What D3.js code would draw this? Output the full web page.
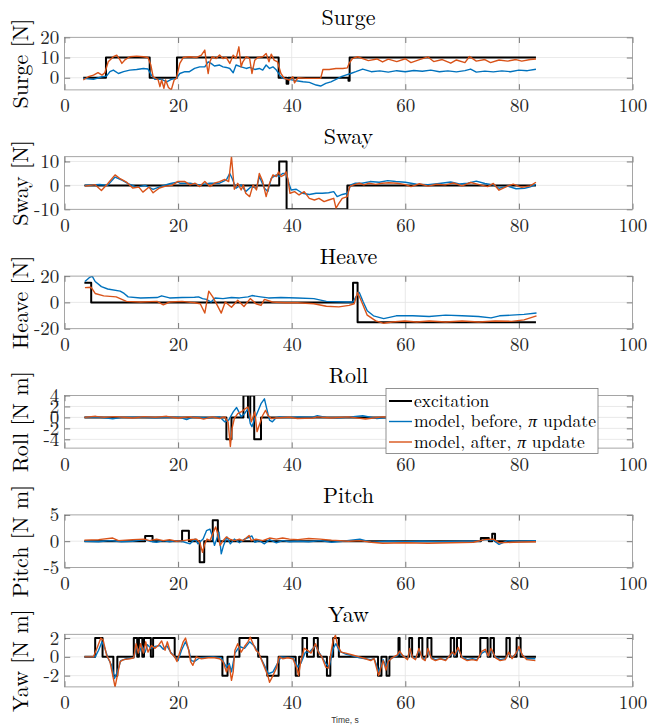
<!DOCTYPE html>
<html><head><meta charset="utf-8">
<script src="https://cdn.jsdelivr.net/npm/d3@7"></script>
<style>body{margin:0;background:#fff} svg{display:block}</style>
</head><body>
<svg id="chart" width="647" height="728"></svg>
<script>
// ---------------- DATA ----------------
const xTicks = [0, 20, 40, 60, 80, 100];
const panelTitles = ["Surge", "Sway", "Heave", "Roll", "Pitch", "Yaw"];
const panelYLabels = ["Surge [N]", "Sway [N]", "Heave [N]", "Roll [N m]", "Pitch [N m]", "Yaw [N m]"];
const seriesNames = ["excitation", "model, before, ", "model, after, "];

const surgeYLim = [-6, 20], surgeTicks = [0, 10, 20];
const swayYLim = [-10, 12], swayTicks = [-10, 0, 10];
const heaveYLim = [-20, 20], heaveTicks = [-20, 0, 20];
const rollYLim = [-5.6, 4], rollTicks = [-4, -2, 0, 2, 4];
const pitchYLim = [-5, 5], pitchTicks = [-5, 0, 5];
const yawYLim = [-3.2, 2.4], yawTicks = [-2, 0, 2];

const surgeExcitation = [[3.3,0],[7.3,10],[15.0,0],[19.8,10],[37.7,0],[39.1,-3],[39.4,0],[50.0,-1.5],[50.2,10],[83,10]];
const surgeBefore = [[3.3,-0.3],[5.1,-0.8],[6.6,0.5],[7.4,0.8],[8.0,3.0],[8.6,3.8],[9.5,2.1],[10.4,3.0],[11.5,3.8],[12.7,4.1],[13.9,4.6],[14.7,4.3],[15.3,1.3],[15.9,-0.8],[17.1,-0.8],[18.0,-2.0],[18.8,-0.8],[19.7,-0.3],[20.3,2.1],[21.2,3.0],[22.0,3.0],[22.9,4.6],[23.8,5.4],[24.7,5.4],[25.3,7.9],[25.8,7.1],[26.4,5.8],[27.3,6.3],[27.9,5.4],[28.5,5.1],[29.1,4.6],[29.7,2.5],[30.2,6.3],[31.1,5.4],[32.0,4.6],[32.6,5.1],[33.5,4.1],[34.3,4.6],[34.9,3.8],[35.5,6.3],[36.1,4.6],[36.7,5.4],[37.3,3.8],[37.9,1.3],[38.4,-0.3],[39.6,-0.8],[40.8,-1.5],[42.0,-2.0],[43.1,-2.3],[44.3,-3.6],[45.1,-4.1],[46.0,-2.8],[46.9,-2.0],[47.8,-0.8],[48.7,0.5],[49.5,1.3],[50.4,2.1],[51.3,3.0],[52.5,4.3],[54,3.0],[55.5,3.4],[57,2.8],[58.5,3.5],[60,3.0],[61.5,3.6],[63,3.2],[64.5,3.8],[66,3.0],[67.5,3.4],[69,2.9],[70.5,3.5],[71.5,4.3],[72.5,2.8],[74,3.3],[75.5,2.9],[77,3.4],[78.5,3.0],[80,3.8],[81.5,3.5],[83,4.2]];
const surgeAfter = [[3.3,-1.1],[4.2,0.5],[5.1,1.3],[5.9,2.5],[6.6,1.3],[7.1,2.5],[7.7,7.9],[8.6,10.4],[9.2,11.2],[9.8,8.7],[10.1,7.1],[10.7,9.0],[11.5,10.4],[12.7,10.7],[13.9,10.4],[14.7,10],[15.2,6.3],[15.6,0.5],[16.5,-1.1],[16.8,-4.4],[17.1,-1.1],[17.5,-5.2],[17.8,-1.1],[18.3,-4.8],[18.8,-6],[19.3,-1.1],[19.7,-0.3],[20.3,7.1],[20.9,10],[22.0,10.4],[23.2,10],[24.1,11.2],[24.7,13.7],[25.0,7.1],[25.3,2.1],[25.6,7.9],[26.0,10.4],[26.7,9.5],[27.3,11.2],[27.9,9.5],[28.5,10],[29.1,7.1],[29.7,11.2],[30.2,9.5],[30.7,15.3],[31.1,5.4],[31.4,7.9],[32.0,10.4],[32.6,9.5],[33.0,2.1],[33.5,8.7],[34.0,10],[34.9,10.4],[35.5,12],[36.0,7.9],[36.4,11.7],[36.9,8.7],[37.5,7.9],[38.1,2.1],[38.7,-0.3],[39.6,-1.1],[40.2,0.5],[40.5,-2.5],[41.1,0],[42.5,-0.3],[43.7,-0.3],[45.1,-0.3],[45.5,4.1],[46.6,4.1],[47.8,4.6],[49.0,4.6],[49.8,4.9],[50.1,7.1],[50.7,9.5],[51.6,10.4],[52.5,9.5],[53.5,8.5],[55,9.3],[56,7.8],[57,9.2],[58.5,8.0],[60,9.4],[61,7.5],[62.5,9.0],[64,10.3],[65,8.0],[66.5,9.0],[68,7.2],[69,8.8],[70.5,7.5],[71.3,10.5],[72.5,8.2],[74,9.0],[75,7.5],[76.5,8.8],[78,8.2],[79.5,9.0],[80.5,8.2],[82,9.0],[83,9.3]];

const swayExcitation = [[3.5,0],[37.8,10],[39.1,-10],[49.8,0],[83,0]];
const swayBefore = [[3.6,0],[6.2,0.4],[7.6,0],[8.9,3.5],[10.2,2.1],[11.2,0.7],[12.7,-0.7],[14.2,0],[15.6,-1.7],[17.1,-0.3],[18.5,0.7],[20,1.4],[20.3,0.9],[22.1,0.9],[23.8,0.2],[25.6,0.9],[27.3,0.9],[28.5,2.3],[29.1,5],[29.5,3],[30.2,-1.2],[31.1,0.2],[31.9,-2.6],[32.9,-0.5],[33.8,-1.2],[34.3,3.7],[35.2,-1.2],[35.8,-2.6],[36.4,3],[37.3,4.4],[37.8,3.7],[38.4,5],[39.0,5],[39.5,0.9],[39.9,-1.9],[40.8,-1.6],[41.9,-3.3],[43.1,-3.8],[44.3,-3.3],[45.4,-3.3],[46.5,-3.1],[47.4,-2.6],[48.0,-4.7],[48.9,-3.8],[49.8,-3.3],[50.4,0.2],[51.2,0.9],[52.4,0.9],[53.8,1.6],[55.4,1.3],[56.9,2.0],[58.3,1.6],[60,1.3],[62,0.5],[64,0.3],[66,0.8],[68,1.4],[69.5,0.6],[71,0.9],[72.5,1.8],[74,0.8],[75.5,0.2],[76.5,-1.2],[78,-0.3],[79.5,-1.4],[81,-1.2],[82,-0.6],[83,0.4]];
const swayAfter = [[3.6,-0.3],[5.4,0.3],[6.5,-2.1],[7.6,0.7],[8.9,4.4],[9.8,2.8],[10.9,1.4],[12,-1.1],[13.1,-0.7],[13.8,-2.8],[14.9,-0.7],[15.6,-3.1],[16.7,-1.1],[17.8,-0.3],[18.9,0],[20,1.7],[21.2,1.6],[22.1,0.2],[23.0,0.9],[23.8,-0.5],[24.7,1.6],[25.6,-0.5],[26.4,0.9],[27.3,1.6],[28.2,2.5],[28.9,1.6],[29.4,12],[29.7,3.7],[29.9,-1.6],[30.5,0.9],[31.1,-1.9],[31.5,0.2],[31.9,-3.3],[32.6,-4.7],[33.2,0.2],[33.8,-1.9],[34.3,5],[34.9,1.6],[35.5,-4.7],[36.1,0.9],[36.7,4.4],[37.3,3.7],[37.7,5.7],[38.1,3.7],[38.7,4.4],[39.0,5.7],[39.3,3.0],[39.7,-3.3],[40.5,-2.6],[41.3,-4.0],[42.2,-2.6],[43.1,-5.4],[44.0,-6.1],[44.8,-5.4],[45.7,-6.8],[46.5,-6.1],[47.4,-5.4],[47.8,-9.5],[48.3,-7.5],[48.9,-5.4],[49.8,-4.7],[50.2,-0.5],[50.9,0.2],[51.9,0.9],[52.7,0.2],[53.6,0.9],[54.8,0.4],[55.9,0.9],[57.1,1.1],[58.6,0.9],[60,0.3],[61,-0.5],[62.5,0.7],[64,-0.3],[65.5,0.5],[67,0.2],[68.5,1.0],[70,-0.2],[71.5,1.2],[73,0.3],[74.5,-0.5],[75.5,0.8],[76.5,-2.0],[78,-0.3],[79,0.5],[80.5,-0.8],[82,-0.2],[83,1.3]];

const heaveExcitation = [[3.5,15],[4.7,0],[50.8,15],[51.6,-15],[83,-15]];
const heaveBefore = [[3.6,15.9],[4.4,19],[4.9,19.8],[5.4,15.9],[6.5,12],[7.6,10.2],[9.8,8.6],[10.5,6.8],[11.2,4.2],[13.4,3.4],[16.3,3.7],[17.1,5],[18.5,3.4],[20.7,3.7],[22.9,3.9],[23.6,4.2],[24.3,2.9],[25,2.3],[25.8,0.3],[26.5,3.4],[27.9,2.9],[29.4,3.7],[30.8,3.4],[32.3,4.2],[33,5.2],[34.5,4.2],[35.9,3.4],[38.1,3.7],[41,3.4],[43.9,2.9],[46.1,0.8],[49.7,0.3],[50.8,0.3],[51.3,4.2],[51.9,7.6],[52.6,0.3],[53.3,-6.3],[54.4,-10.2],[56.2,-12.3],[58.4,-10.2],[61.3,-10.2],[64.2,-10.7],[67.1,-9.7],[70,-10.2],[72.9,-10.7],[75.1,-11.8],[76.6,-10.2],[78.7,-9.7],[80.9,-9.1],[83.1,-8.1]];
const heaveAfter = [[3.6,11.2],[4.7,11.5],[5.4,6.8],[6.9,5],[9.1,4.2],[10.9,0.8],[13.4,0.3],[16.3,0.8],[17.4,-1.8],[18.5,0.3],[20.7,0.8],[22.9,-0.3],[23.9,-1],[24.7,-8.1],[25.4,8.6],[26.1,4.2],[26.9,-2.3],[27.6,-8.1],[28.3,0.3],[29.4,-3.7],[30.5,1.6],[31.6,-3.1],[32.7,2.9],[33.7,-1],[34.6,-2.3],[35.2,2.3],[36.6,0.3],[38.8,-0.3],[41,-0.3],[43.9,-1],[46.1,-2.9],[48.3,-3.4],[50.1,-2.3],[51,-1],[51.6,7.6],[52.2,1.6],[53.3,-9.7],[54.8,-14.1],[56.2,-15.9],[57.7,-14.9],[59.9,-14.1],[62,-14.9],[64.2,-14.1],[67.1,-14.9],[70,-14.1],[72.9,-14.9],[75.8,-14.1],[78.7,-14.4],[80.9,-13.3],[83.1,-10.2]];

const rollExcitation = [[3.5,0],[28.5,-4],[29.4,0],[31.5,4],[32.3,0],[32.7,4],[33.4,-4],[34.6,0],[83,0]];
const rollBefore = [[3.5,0],[6,0.05],[8.5,-0.25],[10,0],[13,0.05],[16,-0.05],[19,0.05],[20.3,0],[21.5,-0.4],[22.6,0.1],[25,-0.1],[27.3,0.1],[28.2,-0.8],[28.9,-0.5],[29.7,1],[30.3,1.8],[30.7,1],[31.1,0.1],[31.7,0.7],[32.3,1.6],[32.7,-1.1],[33.0,-1.7],[33.5,-0.2],[34.0,1],[34.6,2.5],[35.2,3.4],[35.6,1.6],[36.1,-0.5],[36.6,-0.8],[37.2,-0.1],[37.8,0.1],[39.6,0],[41.3,0.1],[43.7,0.05],[44.5,0.3],[46,0],[48,-0.1],[50,0.05],[52.5,0.3],[55,-0.2],[58,0.1],[62,-0.1],[66,0.05],[70,-0.1],[74,0.05],[78,-0.05],[83,0]];
const rollAfter = [[3.5,0],[5.5,0.2],[7,0],[9,0.15],[12,-0.1],[14,0.15],[16,0],[18,0.2],[20,-0.1],[22,0.1],[23.8,-0.1],[24.5,-0.3],[26,0.1],[27.3,-0.2],[28.2,0.1],[28.8,-0.8],[29.2,-5.3],[29.5,-2],[29.9,-0.2],[30.5,0.7],[31.1,1],[31.7,1.5],[32.3,1.9],[32.6,0.7],[32.9,-0.8],[33.5,1],[33.9,-2.6],[34.3,-1.4],[34.9,0.4],[35.4,1.3],[35.8,0.4],[36.4,-0.2],[37.2,-0.1],[39.6,0.05],[41,-0.2],[43.7,-0.1],[44.5,0.1],[47,-0.1],[50,0.1],[53,-0.3],[56,0.1],[60,-0.1],[65,0.1],[70,-0.1],[75,0.1],[80,-0.1],[83,0]];

const pitchExcitation = [[3.5,0],[14.2,1],[15.5,0],[20.7,2],[21.9,0],[23.8,-4],[24.6,0],[26.1,4],[27.0,0],[73.3,0.6],[74.7,0],[75.3,1.4],[75.8,0],[83,0]];
const pitchBefore = [[3.5,0],[6,-0.1],[8,0.1],[10,-0.1],[12,0],[14,0.3],[15,0],[16.2,-0.2],[17.4,0.1],[18.5,-0.1],[19.7,0.1],[20.9,-0.1],[22.1,-0.5],[23.0,0.4],[23.5,-0.5],[24.4,0.4],[25.0,2],[25.6,2.3],[26.0,1.1],[26.4,-0.8],[26.8,0.4],[27.2,1.7],[27.6,-2.4],[28.0,-0.8],[28.6,0.8],[29.2,-0.5],[29.9,0.4],[30.8,-0.3],[31.7,0.4],[32.6,0.8],[33.0,1.0],[33.5,-0.2],[34.3,0.1],[35.2,-0.5],[36.1,0.3],[37.3,-0.3],[38.4,0.1],[39.6,-0.1],[41.1,0],[43,-0.1],[45,0.1],[47,-0.2],[49,0],[52,0.4],[54,-0.2],[57,0],[60,-0.1],[63,0],[66,-0.1],[70,0],[73,0],[74,0.3],[75.5,0.2],[76.5,-0.6],[78,0.1],[80,0],[83,0.1]];
const pitchAfter = [[3.5,0.2],[6,0.3],[8.5,0.6],[9.5,0.1],[12,0.3],[14,0.4],[15,0.1],[16.2,0.4],[17.4,0.1],[18.5,0.3],[19.7,0],[20.9,0.1],[22.1,0.3],[23.2,0.4],[23.8,-0.2],[24.3,-2.1],[24.7,-0.5],[25.1,0.4],[25.6,0.1],[26.1,1.4],[26.6,2.7],[27.0,1.4],[27.4,-0.8],[27.9,0.1],[28.5,0.8],[29.1,0.4],[29.9,0.1],[30.8,0.4],[31.4,0.1],[32.5,1.1],[32.9,0.1],[33.7,0.4],[34.9,0.1],[36.1,0.6],[37.3,0.4],[38.4,0.6],[39.6,0.4],[41.1,0.3],[43,0.5],[45,0.4],[47,0.2],[50,0],[52,0.1],[54,-0.2],[56,-0.4],[60,-0.3],[64,-0.4],[68,-0.3],[72,-0.2],[74,0.3],[75.5,0.4],[76.5,-0.3],[79,-0.2],[83,-0.1]];

const yawExcitation = [[3.5,0],[5.4,2],[6.7,0],[8.6,-2],[9.3,0],[12.2,2],[12.8,0],[13.1,2],[13.7,0],[14.0,2],[15.2,0],[15.6,2],[19.4,0],[27.8,-2],[28.7,0],[30.8,2],[34.1,0],[35.7,-2],[37.7,0],[40.7,-2],[41.3,0],[41.9,2],[42.7,0],[43.9,2],[44.6,0],[46.2,-2],[46.8,0],[47.3,2],[48.3,0],[55.2,-2],[55.8,0],[56.7,-2],[57.2,0],[58.8,2],[59.0,0],[60.7,2],[61.2,0],[62.4,2],[63.0,0],[63.9,2],[64.6,0],[68.0,2],[68.6,0],[69.1,2],[69.8,0],[73.2,2],[74.5,0],[75.0,2],[75.6,0],[77.8,2],[78.4,0],[79.6,2],[80.3,0],[83,0]];
const yawBefore = [[3.5,0],[5.4,0],[6.0,0.7],[6.6,1.6],[7.1,0.9],[7.7,-0.2],[8.3,-0.9],[8.8,-2.3],[9.3,-1.6],[9.9,-0.4],[10.9,-0.2],[12.2,-0.1],[12.7,1.1],[13.2,0.5],[13.6,1.2],[14.2,0.5],[14.6,1.3],[15.2,0.9],[15.9,1.1],[16.8,1.2],[17.4,0.8],[18.0,1.2],[18.7,0.5],[19.4,0],[20.0,-0.4],[20.6,0.7],[21.3,1.6],[21.9,0.7],[22.3,-0.4],[22.9,-0.5],[23.8,-0.1],[26.2,0],[27.6,-0.1],[28.5,-1.1],[29.0,-0.7],[29.4,-1.6],[30.0,0.4],[30.8,1.1],[31.7,0.9],[32.6,1.6],[33.5,1.1],[34.3,0.2],[35.2,-0.9],[35.9,-1.8],[36.7,-1.6],[37.5,-0.7],[38.1,0],[40.2,-0.1],[41.1,-1.1],[41.6,-0.7],[42.4,0.5],[43.1,0.5],[44.2,1.2],[44.9,0.4],[46.0,-0.7],[46.6,-1.1],[47.3,0.9],[47.8,1.4],[48.4,0.6],[49.5,0.3],[50.7,0.1],[51.9,-0.1],[53.0,-0.2],[53.9,-0.3],[54.5,-0.2],[54.9,-0.8],[55.3,-1.6],[55.7,-1.0],[56.1,-0.3],[56.6,-1.0],[57.0,-0.4],[57.7,-0.1],[58.6,0.1],[59.0,0.4],[59.6,0.1],[60.4,-0.2],[60.8,0.7],[61.3,0],[61.8,-0.2],[62.4,0.7],[63.0,-0.1],[63.5,-0.3],[64.0,0.7],[64.6,-0.1],[65.3,-0.3],[66.2,-0.2],[67.1,-0.3],[68.3,0.4],[68.7,0.1],[69.3,0.8],[70.0,0],[70.9,-0.3],[71.8,-0.2],[72.6,-0.3],[73.5,0.4],[74.1,0.6],[74.6,0.1],[75.1,0.7],[75.9,0],[76.7,-0.3],[77.6,-0.2],[78.2,0.4],[78.8,-0.1],[79.6,0.4],[80.0,0.9],[80.6,0.2],[81.4,-0.2],[82.9,-0.2]];
const yawAfter = [[3.5,0],[5.1,0],[5.7,0.9],[6.4,2.0],[6.8,1.8],[7.4,0.2],[8.0,-0.5],[8.5,-2.0],[8.9,-3.2],[9.3,-2.0],[9.8,-0.5],[10.4,-0.3],[11.5,-0.2],[12.2,-0.1],[12.6,1.4],[13.0,0.4],[13.4,1.4],[13.9,0.4],[14.3,1.6],[14.7,0.5],[15.3,1.2],[15.9,0.9],[16.5,1.2],[17.1,1.7],[17.7,0.7],[18.1,1.6],[18.7,0.4],[19.4,0],[19.8,-0.5],[20.3,0.5],[20.9,1.6],[21.3,2.0],[21.8,0.9],[22.2,-0.5],[22.6,-0.9],[23.2,0],[24.1,-0.2],[25.3,-0.1],[26.4,-0.1],[27.3,-0.2],[27.9,-0.5],[28.5,-1.6],[29.0,-0.9],[29.4,-2.5],[29.7,-1.6],[30.0,0.7],[30.5,1.4],[31.1,0.5],[31.7,1.1],[32.3,1.6],[32.7,2.1],[33.2,1.4],[33.7,0.7],[34.2,0.4],[34.6,-0.2],[35.2,-1.1],[35.8,-2.0],[36.1,-2.7],[36.7,-2.0],[37.3,-1.2],[37.8,0],[38.4,-0.2],[39.3,-0.1],[40.2,-0.2],[40.9,-1.2],[41.2,-2.0],[41.6,-0.5],[42.2,0.9],[42.8,0.7],[43.4,0.4],[44.2,1.4],[44.7,0.5],[45.3,0],[46.0,-1.1],[46.5,-1.2],[46.9,0.4],[47.3,1.8],[47.7,2.3],[48.1,1.2],[48.7,0.5],[49.5,0.4],[50.7,0.2],[51.9,0],[53.0,-0.2],[53.9,-0.4],[54.5,-0.2],[54.9,-1.1],[55.3,-2.0],[55.7,-1.2],[56.1,-0.4],[56.6,-1.4],[57.0,-0.5],[57.7,-0.1],[58.6,0.2],[59.0,0.6],[59.6,0.1],[60.4,-0.3],[60.8,0.9],[61.3,-0.1],[61.8,-0.3],[62.4,0.9],[63.0,-0.2],[63.5,-0.4],[64.0,0.9],[64.6,-0.2],[65.3,-0.4],[66.2,-0.2],[67.1,-0.4],[68.3,0.5],[68.7,0.2],[69.3,1.0],[70.0,-0.1],[70.9,-0.4],[71.8,-0.3],[72.6,-0.4],[73.5,0.6],[74.1,0.8],[74.6,0.1],[75.1,0.9],[75.9,-0.1],[76.7,-0.4],[77.6,-0.3],[78.2,0.5],[78.8,-0.2],[79.6,0.5],[80.0,1.1],[80.6,0.2],[81.4,-0.3],[82.9,-0.4]];

// ---------------- LAYOUT / STYLE ----------------
const W = 647, H = 728;
const plotLeft = 64.5, plotRight = 632.5, firstTop = 37.3, boxH = 52.6, panelStep = 119.4;
const colors = ["#000000", "#0072BD", "#D95319"];
const widths = [2, 1.4, 1.4];
const serif = "'Latin Modern Roman','CMU Serif','Liberation Serif','Times New Roman',serif";
const tickLen = 5.7;

const panels = [
  {lim: surgeYLim, ticks: surgeTicks, series: [surgeExcitation, surgeBefore, surgeAfter]},
  {lim: swayYLim, ticks: swayTicks, series: [swayExcitation, swayBefore, swayAfter]},
  {lim: heaveYLim, ticks: heaveTicks, series: [heaveExcitation, heaveBefore, heaveAfter]},
  {lim: rollYLim, ticks: rollTicks, series: [rollExcitation, rollBefore, rollAfter]},
  {lim: pitchYLim, ticks: pitchTicks, series: [pitchExcitation, pitchBefore, pitchAfter]},
  {lim: yawYLim, ticks: yawTicks, series: [yawExcitation, yawBefore, yawAfter]}
];

const svg = d3.select("#chart");
svg.append("rect").attr("width", W).attr("height", H).attr("fill", "#fff");

const x = d3.scaleLinear().domain([0, 100]).range([plotLeft, plotRight]);
const fmt = d => String(d);

function styleAxis(g) {
  g.select(".domain").remove();
  g.selectAll(".tick line").attr("stroke", "#262626").attr("stroke-width", 0.6);
  g.selectAll(".tick text").attr("fill", "#262626").attr("font-family", serif).attr("font-size", 19);
  g.attr("font-family", null).attr("font-size", null);
}

panels.forEach((p, i) => {
  const top = firstTop + i * panelStep, bottom = top + boxH;
  const y = d3.scaleLinear().domain(p.lim).range([bottom, top]);
  const g = svg.append("g");

  // grid
  g.append("g").selectAll("line").data(xTicks.filter(t => t > 0 && t < 100)).join("line")
    .attr("x1", d => x(d)).attr("x2", d => x(d)).attr("y1", top).attr("y2", bottom)
    .attr("stroke", "#e3e3e3").attr("stroke-width", 0.8);
  g.append("g").selectAll("line").data(p.ticks.filter(t => y(t) > top + 0.5 && y(t) < bottom - 0.5)).join("line")
    .attr("x1", plotLeft).attr("x2", plotRight).attr("y1", d => y(d)).attr("y2", d => y(d))
    .attr("stroke", "#e3e3e3").attr("stroke-width", 0.8);

  // clip
  const cid = "clip" + i;
  svg.append("clipPath").attr("id", cid).append("rect")
    .attr("x", plotLeft).attr("y", top).attr("width", plotRight - plotLeft).attr("height", boxH);

  const lines = g.append("g").attr("clip-path", `url(#${cid})`);
  p.series.forEach((s, k) => {
    const gen = d3.line().x(d => x(d[0])).y(d => y(d[1]));
    if (k === 0) gen.curve(d3.curveStepAfter);
    lines.append("path").datum(s).attr("d", gen)
      .attr("fill", "none").attr("stroke", colors[k]).attr("stroke-width", widths[k])
      .attr("stroke-linejoin", "round");
  });

  // axes
  const ax = g.append("g").attr("transform", `translate(0,${bottom})`)
    .call(d3.axisBottom(x).tickValues(xTicks).tickFormat(fmt).tickSizeInner(-tickLen).tickSizeOuter(0).tickPadding(9));
  styleAxis(ax);
  const axT = g.append("g").attr("transform", `translate(0,${top})`)
    .call(d3.axisTop(x).tickValues(xTicks).tickFormat("").tickSizeInner(-tickLen).tickSizeOuter(0));
  styleAxis(axT);
  const ay = g.append("g").attr("transform", `translate(${plotLeft},0)`)
    .call(d3.axisLeft(y).tickValues(p.ticks).tickFormat(fmt).tickSizeInner(-tickLen).tickSizeOuter(0).tickPadding(5.3));
  styleAxis(ay);
  const ayR = g.append("g").attr("transform", `translate(${plotRight},0)`)
    .call(d3.axisRight(y).tickValues(p.ticks).tickFormat("").tickSizeInner(-tickLen).tickSizeOuter(0));
  styleAxis(ayR);

  // box
  g.append("rect").attr("x", plotLeft).attr("y", top).attr("width", plotRight - plotLeft).attr("height", boxH)
    .attr("fill", "none").attr("stroke", "#8f8f8f").attr("stroke-width", 0.8);

  // title
  g.append("text").attr("x", (plotLeft + plotRight) / 2).attr("y", top - 12.3)
    .attr("text-anchor", "middle").attr("font-family", serif).attr("font-size", 22).attr("fill", "#000")
    .text(panelTitles[i]);

  // ylabel
  g.append("text").attr("transform", `translate(28,${(top + bottom) / 2}) rotate(-90)`)
    .attr("text-anchor", "middle").attr("font-family", serif).attr("font-size", 22).attr("fill", "#000")
    .text(panelYLabels[i]);

  // legend on Roll panel
  if (i === 3) {
    const lg = svg.append("g");
    const lx = 386, ly = top - 7, lw = 212, lh = 65;
    lg.append("rect").attr("x", lx).attr("y", ly).attr("width", lw).attr("height", lh)
      .attr("fill", "#fff").attr("stroke", "#777").attr("stroke-width", 0.8);
    seriesNames.forEach((name, k) => {
      const cy = ly + 12.5 + k * 20.5;
      lg.append("line").attr("x1", lx + 3).attr("x2", lx + 26).attr("y1", cy).attr("y2", cy)
        .attr("stroke", colors[k]).attr("stroke-width", widths[k]);
      const t = lg.append("text").attr("x", lx + 28).attr("y", cy + 5.5)
        .attr("font-family", serif).attr("font-size", 17.5).attr("fill", "#000").text(name);
      if (k > 0) {
        t.append("tspan").attr("font-style", "italic").text("π");
        t.append("tspan").text(" update");
      }
    });
  }
});

svg.append("text").attr("x", 345).attr("y", 723).attr("text-anchor", "middle")
  .attr("font-family", "'Liberation Sans',Arial,sans-serif").attr("font-size", 8.5).attr("fill", "#333")
  .text("Time, s");
</script></body></html>
